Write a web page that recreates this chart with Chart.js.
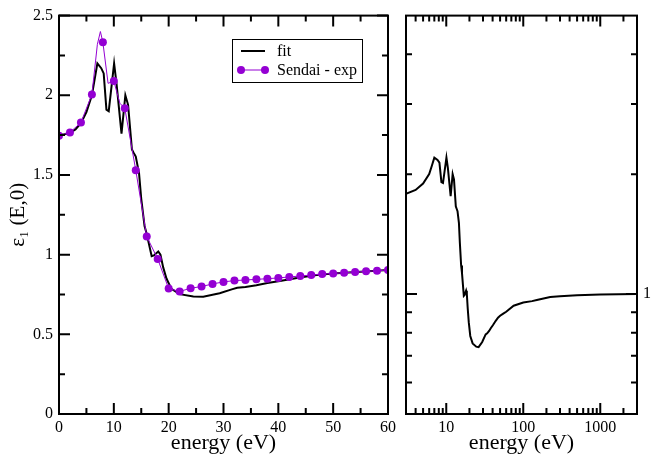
<!DOCTYPE html>
<html>
<head>
<meta charset="utf-8">
<script src="https://cdn.jsdelivr.net/npm/chart.js@4.4.1/dist/chart.umd.min.js"></script>
<style>
  body { margin: 0; background: #fff; }
  #wrap { position: relative; width: 654px; height: 462px; }
  canvas { position: absolute; top: 0; }
  #left { left: 0; }
  #right { left: 392px; }
</style>
</head>
<body>
<div id="wrap">
  <canvas id="left" width="400" height="462"></canvas>
  <canvas id="right" width="262" height="462"></canvas>
</div>
<script>
// fit curve: energy (eV) and eps1(E,0)
const fitEnergy = [0, 1, 2, 3, 4, 5, 6, 6.5, 7.0, 7.7, 8.15, 8.65, 9.07, 10.05, 10.5, 11.4, 12.1, 12.6,
  13.3, 13.6, 14.0, 14.6, 15.0, 15.6, 16.0, 16.9, 17.3, 18.1, 18.5, 19.0, 19.6, 20.5, 22.0, 24.5, 26.3,
  29.3, 31.5, 32.5, 34, 36, 38, 40.3, 43.9, 47, 50, 55, 60, 75, 100, 130, 150, 224, 300, 500, 1000, 3000];
const fitEps = [1.75, 1.755, 1.765, 1.785, 1.825, 1.895, 2.0, 2.1, 2.2, 2.17, 2.137, 1.91, 1.90, 2.2, 2.07,
  1.76, 2.0, 1.94, 1.66, 1.64, 1.615, 1.51, 1.35, 1.18, 1.13, 0.99, 0.995, 1.02, 1.0, 0.92, 0.85, 0.785,
  0.752, 0.738, 0.736, 0.758, 0.782, 0.792, 0.797, 0.808, 0.822, 0.835, 0.857, 0.872, 0.882, 0.893, 0.903,
  0.935, 0.952, 0.96, 0.966, 0.983, 0.988, 0.993, 0.997, 1.0];

// Sendai experiment
const expEnergy = [0, 2, 4, 6, 7, 7.55, 8, 8.95, 10, 11.1, 12, 14, 16, 18, 20, 22, 24, 26, 28, 30, 32, 34,
  36, 38, 40, 42, 44, 46, 48, 50, 52, 54, 56, 58, 60];
const expEps = [1.746, 1.767, 1.829, 2.005, 2.32, 2.40, 2.333, 2.075, 2.089, 1.95, 1.918, 1.53, 1.114, 0.973,
  0.787, 0.769, 0.789, 0.80, 0.816, 0.829, 0.837, 0.841, 0.845, 0.849, 0.854, 0.86, 0.866, 0.872, 0.878,
  0.882, 0.886, 0.891, 0.895, 0.899, 0.903];

const leftXTicks = [0, 10, 20, 30, 40, 50, 60];
const leftXMinor = [5, 15, 25, 35, 45, 55];
const leftYTicks = [0, 0.5, 1, 1.5, 2, 2.5];
const leftYMinor = [0.25, 0.75, 1.25, 1.75, 2.25];
const rightXTicks = [10, 100, 1000];
const rightXMinor = [4, 5, 6, 7, 8, 9, 20, 30, 40, 50, 60, 70, 80, 90, 200, 300, 400, 500, 600, 700, 800, 900, 2000];
const rightYTicks = [1];
const rightYMinor = [0.6, 0.7, 0.8, 0.9, 2, 3, 4];

const purple = '#9400d3';
Chart.defaults.font.family = "'Liberation Serif', 'DejaVu Serif', serif";
Chart.defaults.color = '#000';

const fitPts = fitEnergy.map((e, i) => ({ x: e, y: fitEps[i] }));
const expPts = expEnergy.map((e, i) => ({ x: e, y: expEps[i] }));

// frame + inward tick marks on all four sides
const framePlugin = {
  id: 'frame',
  afterDatasetsDraw(chart, args, opts) {
    const { ctx, chartArea: a } = chart;
    const xs = chart.scales.x, ys = chart.scales.y;
    ctx.save();
    ctx.strokeStyle = '#000';
    ctx.lineWidth = 2;
    ctx.strokeRect(a.left, a.top, a.right - a.left, a.bottom - a.top);
    ctx.beginPath();
    const xMark = (vals, len) => vals.forEach(v => {
      const p = xs.getPixelForValue(v);
      ctx.moveTo(p, a.bottom); ctx.lineTo(p, a.bottom - len);
      ctx.moveTo(p, a.top); ctx.lineTo(p, a.top + len);
    });
    const yMark = (vals, len) => vals.forEach(v => {
      const p = ys.getPixelForValue(v);
      ctx.moveTo(a.left, p); ctx.lineTo(a.left + len, p);
      ctx.moveTo(a.right, p); ctx.lineTo(a.right - len, p);
    });
    xMark(opts.xMajor, 11); xMark(opts.xMinor, 6);
    yMark(opts.yMajor, 11); yMark(opts.yMinor, 6);
    ctx.stroke();
    ctx.restore();
  }
};

const legendPlugin = {
  id: 'boxLegend',
  afterDraw(chart) {
    const ctx = chart.ctx;
    const ds = chart.data.datasets;
    ctx.save();
    ctx.fillStyle = '#fff';
    ctx.fillRect(232.5, 39.5, 130, 43);
    ctx.strokeStyle = '#000';
    ctx.lineWidth = 1;
    ctx.strokeRect(232.5, 39.5, 130, 43);
    ctx.font = "16px 'Liberation Serif', serif";
    ctx.textBaseline = 'middle';
    ds.forEach((d, i) => {
      const y = 51 + i * 19;
      ctx.strokeStyle = d.borderColor;
      ctx.lineWidth = d.borderWidth;
      ctx.beginPath(); ctx.moveTo(241, y); ctx.lineTo(265, y); ctx.stroke();
      if (d.pointBackgroundColor) {
        ctx.fillStyle = d.pointBackgroundColor;
        [241, 265].forEach(px => { ctx.beginPath(); ctx.arc(px, y, 4, 0, Math.PI * 2); ctx.fill(); });
      }
      ctx.fillStyle = '#000';
      ctx.fillText(d.label, 277, y + 1);
    });
    ctx.restore();
  }
};

const noAxisLines = { grid: { display: false, drawTicks: false, tickLength: 0 }, border: { display: false } };

new Chart(document.getElementById('left'), {
  type: 'line',
  data: {
    datasets: [
      { label: 'fit', data: fitPts, borderColor: '#000', borderWidth: 2, pointRadius: 0, tension: 0 },
      { label: 'Sendai - exp', data: expPts, borderColor: purple, borderWidth: 1, tension: 0, order: -1,
        pointBackgroundColor: purple, pointBorderWidth: 0,
        pointRadius: expEnergy.map(e => e % 2 === 0 ? 4 : 0) }
    ]
  },
  options: {
    responsive: false,
    animation: false,
    events: [],
    layout: { padding: { top: 11, right: 12 } },
    plugins: {
      legend: { display: false },
      tooltip: { enabled: false },
      frame: { xMajor: leftXTicks, xMinor: leftXMinor, yMajor: leftYTicks, yMinor: leftYMinor }
    },
    scales: {
      x: {
        type: 'linear', min: 0, max: 60, ...noAxisLines,
        afterBuildTicks: s => { s.ticks = leftXTicks.map(v => ({ value: v })); },
        ticks: { font: { size: 16 }, padding: 4, maxRotation: 0, autoSkip: false, callback: v => String(v) },
        title: { display: true, text: 'energy (eV)', font: { size: 22 }, padding: { top: 0, bottom: 6 } },
        afterFit: s => { s.height = 48; }
      },
      y: {
        type: 'linear', min: 0, max: 2.5, ...noAxisLines,
        afterBuildTicks: s => { s.ticks = leftYTicks.map(v => ({ value: v })); },
        ticks: { font: { size: 16 }, padding: 6, autoSkip: false, callback: v => String(v) },
        title: { display: true, text: 'ε₁ (E,0)', font: { size: 21 }, padding: { top: 6, bottom: 0 } },
        afterFit: s => { s.width = 59; }
      }
    }
  },
  plugins: [framePlugin, legendPlugin]
});

new Chart(document.getElementById('right'), {
  type: 'line',
  data: {
    datasets: [
      { label: 'fit', data: fitPts.filter(p => p.x > 0), borderColor: '#000', borderWidth: 2,
        pointRadius: 0, tension: 0, yAxisID: 'y' }
    ]
  },
  options: {
    responsive: false,
    animation: false,
    events: [],
    layout: { padding: { top: 11 } },
    plugins: {
      legend: { display: false },
      tooltip: { enabled: false },
      frame: { xMajor: rightXTicks, xMinor: rightXMinor, yMajor: rightYTicks, yMinor: rightYMinor }
    },
    scales: {
      x: {
        type: 'logarithmic', min: 3, max: 3000, ...noAxisLines,
        afterBuildTicks: s => { s.ticks = rightXTicks.map(v => ({ value: v })); },
        ticks: { font: { size: 16 }, padding: 4, maxRotation: 0, autoSkip: false, callback: v => String(v) },
        title: { display: true, text: 'energy (eV)', font: { size: 22 }, padding: { top: 0, bottom: 6 } },
        afterFit: s => { s.height = 48; }
      },
      y: {
        type: 'logarithmic', min: 0.5, max: 5, position: 'left', ...noAxisLines,
        ticks: { display: false },
        afterFit: s => { s.width = 14; }
      },
      yR: {
        type: 'logarithmic', min: 0.5, max: 5, position: 'right', ...noAxisLines,
        afterBuildTicks: s => { s.ticks = rightYTicks.map(v => ({ value: v })); },
        ticks: { font: { size: 16 }, padding: 6, autoSkip: false, callback: v => String(v) },
        afterFit: s => { s.width = 17; }
      }
    }
  },
  plugins: [framePlugin]
});
</script>
</body>
</html>
